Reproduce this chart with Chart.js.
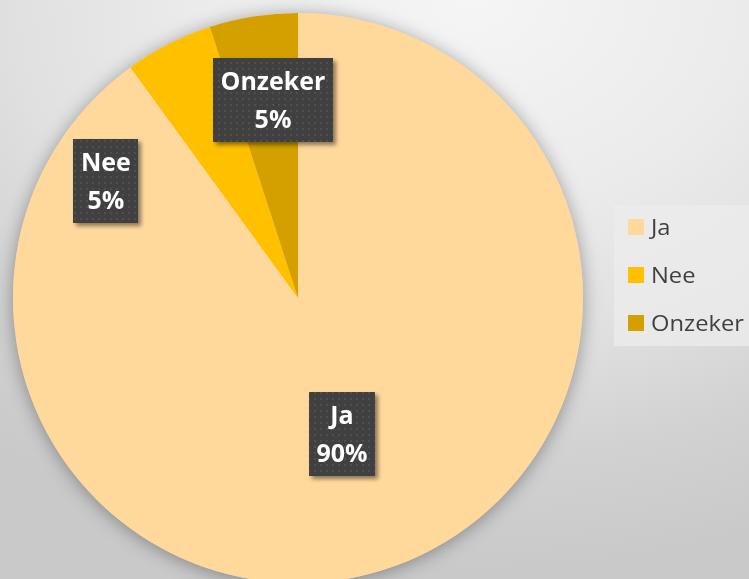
<!DOCTYPE html>
<html>
<head>
<meta charset="utf-8">
<script src="https://cdn.jsdelivr.net/npm/chart.js@4.4.1/dist/chart.umd.min.js"></script>
<style>
  html, body { margin: 0; padding: 0; width: 749px; height: 579px; overflow: hidden; }
  body {
    background: radial-gradient(ellipse 700px 520px at 63% 0%, #f5f5f5 0%, #ebebeb 40%, #e0e0e0 66%, #d2d2d2 87%, #c9c9c9 110%);
  }
  #wrap { position: absolute; left: 0; top: 0; width: 749px; height: 600px; }
</style>
</head>
<body>
<div id="wrap"><canvas id="c" width="749" height="600"></canvas></div>
<script>
// ---- data ----
const categories = ["Ja", "Nee", "Onzeker"];
const values = [90, 5, 5];
const percentLabels = ["90%", "5%", "5%"];
const sliceColors = ["#FFD89C", "#FFC000", "#D4A000"];

// label placement (radius fraction, angle in degrees clockwise from 12 o'clock; null = slice middle)
const labelPlacement = [
  { r: 0.50, a: null },
  { r: 0.79, a: 301.4 },
  { r: 0.70, a: 352.8 }
];

function makePattern(ctx) {
  const p = document.createElement('canvas');
  p.width = 6; p.height = 6;
  const pc = p.getContext('2d');
  pc.fillStyle = '#404040';
  pc.fillRect(0, 0, 6, 6);
  pc.fillStyle = '#4f4f4f';
  pc.fillRect(2, 2, 2, 2);
  return ctx.createPattern(p, 'repeat');
}

const pieShadow = {
  id: 'pieShadow',
  beforeDatasetsDraw(chart) {
    const arc = chart.getDatasetMeta(0).data[0];
    if (!arc) return;
    const { x, y, outerRadius } = arc.getProps(['x', 'y', 'outerRadius'], true);
    const ctx = chart.ctx;
    ctx.save();
    ctx.shadowColor = 'rgba(0,0,0,0.35)';
    ctx.shadowBlur = 18;
    ctx.shadowOffsetY = 2;
    ctx.fillStyle = sliceColors[0];
    ctx.beginPath();
    ctx.arc(x, y, outerRadius, 0, Math.PI * 2);
    ctx.fill();
    ctx.restore();
  }
};

const boxLabels = {
  id: 'boxLabels',
  afterDatasetsDraw(chart) {
    const ctx = chart.ctx;
    const meta = chart.getDatasetMeta(0);
    const pattern = makePattern(ctx);
    meta.data.forEach((arc, i) => {
      const { x, y, startAngle, endAngle, outerRadius } =
        arc.getProps(['x', 'y', 'startAngle', 'endAngle', 'outerRadius'], true);
      const pl = labelPlacement[i];
      let theta = pl.a === null ? (startAngle + endAngle) / 2 : (pl.a * Math.PI / 180 - Math.PI / 2);
      const r = outerRadius * pl.r;
      const cx = x + r * Math.cos(theta);
      const cy = y + r * Math.sin(theta);
      const l1 = chart.data.labels[i];
      const l2 = percentLabels[i];
      ctx.save();
      ctx.font = 'bold 25px "Open Sans"';
      const w = Math.max(ctx.measureText(l1).width, ctx.measureText(l2).width) + 15;
      const h = 84;
      ctx.shadowColor = 'rgba(0,0,0,0.45)';
      ctx.shadowBlur = 4;
      ctx.shadowOffsetX = 3;
      ctx.shadowOffsetY = 3;
      ctx.fillStyle = pattern;
      ctx.fillRect(Math.round(cx - w / 2), Math.round(cy - h / 2), Math.round(w), h);
      ctx.restore();
      ctx.save();
      ctx.font = 'bold 25px "Open Sans"';
      ctx.fillStyle = '#ffffff';
      ctx.textAlign = 'center';
      ctx.textBaseline = 'alphabetic';
      ctx.fillText(l1, cx, cy - 10);
      ctx.fillText(l2, cx, cy + 28);
      ctx.restore();
    });
  }
};

const sideLegend = {
  id: 'sideLegend',
  afterDraw(chart) {
    const ctx = chart.ctx;
    const left = chart.chartArea.right + 31;
    ctx.save();
    ctx.fillStyle = 'rgba(236,236,236,0.75)';
    ctx.fillRect(left, 205, chart.width - left, 141);
    ctx.font = '21px "Open Sans"';
    ctx.textBaseline = 'alphabetic';
    ctx.textAlign = 'left';
    chart.data.labels.forEach((lab, i) => {
      const cy = 227 + i * 48;
      ctx.fillStyle = chart.data.datasets[0].backgroundColor[i];
      ctx.fillRect(left + 14, cy - 8, 16, 16);
      ctx.fillStyle = '#404040';
      ctx.save();
      ctx.translate(left + 37, cy + 8);
      ctx.scale(1.13, 1);
      ctx.fillText(lab, 0, 0);
      ctx.restore();
    });
    ctx.restore();
  }
};

new Chart(document.getElementById('c'), {
  type: 'pie',
  data: {
    labels: categories,
    datasets: [{
      data: values,
      backgroundColor: sliceColors,
      borderWidth: 0,
      hoverOffset: 0
    }]
  },
  options: {
    responsive: false,
    devicePixelRatio: 1,
    animation: false,
    layout: { padding: { left: 13, top: 13, right: 166, bottom: 17 } },
    plugins: {
      legend: { display: false },
      tooltip: { enabled: false }
    }
  },
  plugins: [pieShadow, boxLabels, sideLegend]
});
</script>
</body>
</html>
